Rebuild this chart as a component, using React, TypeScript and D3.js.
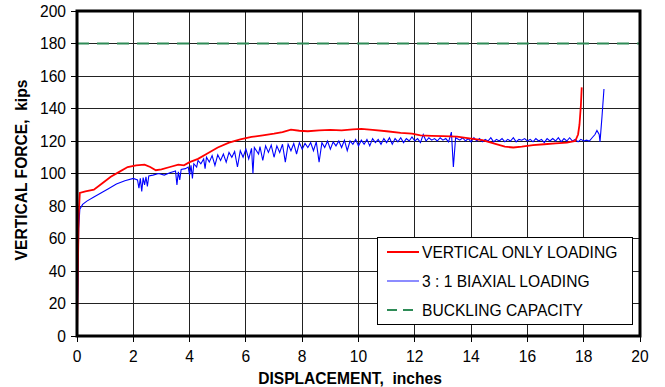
import React from 'react';
import * as d3 from 'd3';

const xTicks = [0, 2, 4, 6, 8, 10, 12, 14, 16, 18, 20];
const yTicks = [0, 20, 40, 60, 80, 100, 120, 140, 160, 180, 200];
const bucklingCapacity = 180;

const legendLabels = ['VERTICAL ONLY LOADING', '3 : 1 BIAXIAL LOADING', 'BUCKLING CAPACITY'];

// vertical only loading (displacement in, force kips)
const verticalX = [0, 0.03, 0.06, 0.1, 0.3, 0.6, 0.9, 1.2, 1.5, 1.8, 2.1, 2.4, 2.6, 2.8, 3.0, 3.3, 3.6, 3.8, 4.0, 4.3, 4.6, 5.0, 5.4, 5.8, 6.2, 6.6, 7.0, 7.3, 7.6, 7.9, 8.2, 8.6, 9.0, 9.4, 9.8, 10.1, 10.5, 11.0, 11.5, 11.9, 12.2, 12.6, 13.0, 13.5, 14.0, 14.4, 14.8, 15.2, 15.5, 15.8, 16.2, 16.6, 17.0, 17.4, 17.7, 17.8, 17.85, 17.9, 17.93];
const verticalY = [0, 40, 75, 88, 89, 90, 94, 98, 101, 104, 105, 105.5, 104, 102, 102.5, 104, 105.5, 105, 107, 109, 112, 116, 119, 121, 122.5, 123.5, 124.5, 125.5, 127, 126.3, 126, 126.5, 126.8, 126.5, 127.2, 127.4, 126.8, 126, 125, 124.5, 123.5, 123.2, 123, 122.7, 121.5, 120.5, 118.5, 116.5, 116, 116.5, 117.5, 118, 118.5, 119, 120, 124, 130, 142, 153];

// 3:1 biaxial loading
const biaxialX = [0, 0.03, 0.06, 0.1, 0.2, 0.35, 0.6, 0.85, 1.1, 1.4, 1.7, 2.0, 2.15, 2.2, 2.25, 2.3, 2.35, 2.4, 2.45, 2.5, 2.55, 2.7, 2.9, 3.1, 3.3, 3.5, 3.55, 3.6, 3.65, 3.7, 3.85, 3.95, 4.0, 4.05, 4.1, 4.15, 4.25, 4.3, 4.4, 4.5, 4.55, 4.6, 4.7, 4.8, 4.9, 5.0, 5.1, 5.2, 5.3, 5.4, 5.5, 5.6, 5.7, 5.8, 5.9, 6.0, 6.1, 6.2, 6.25, 6.3, 6.45, 6.5, 6.6, 6.7, 6.8, 6.9, 7.0, 7.1, 7.2, 7.3, 7.4, 7.5, 7.6, 7.7, 7.8, 7.9, 8.0, 8.1, 8.2, 8.3, 8.4, 8.5, 8.6, 8.7, 8.8, 8.9, 9.0, 9.1, 9.2, 9.3, 9.4, 9.5, 9.6, 9.7, 9.8, 9.9, 10.0, 10.1, 10.2, 10.3, 10.4, 10.5, 10.6, 10.7, 10.8, 10.9, 11.0, 11.1, 11.2, 11.3, 11.4, 11.5, 11.6, 11.7, 11.8, 11.9, 12.0, 12.1, 12.2, 12.3, 12.4, 12.5, 12.6, 12.7, 12.8, 12.9, 13.0, 13.1, 13.2, 13.3, 13.37, 13.45, 13.6, 13.7, 13.8, 13.9, 14.0, 14.1, 14.2, 14.3, 14.4, 14.5, 14.6, 14.7, 14.8, 14.9, 15.0, 15.1, 15.2, 15.3, 15.4, 15.5, 15.6, 15.7, 15.8, 15.9, 16.0, 16.1, 16.2, 16.3, 16.4, 16.5, 16.6, 16.7, 16.8, 16.9, 17.0, 17.1, 17.2, 17.3, 17.4, 17.5, 17.6, 17.7, 17.8, 17.9, 18.0, 18.1, 18.2, 18.3, 18.4, 18.47, 18.55, 18.58, 18.65, 18.72];
const biaxialY = [0, 30, 66, 78, 81, 83, 85.5, 88, 90.5, 93.5, 95.5, 97, 96, 91, 97, 89, 97.5, 93, 98, 92, 98.5, 99, 100, 99, 100.5, 101.5, 93, 101, 96, 102.5, 103, 104, 99, 105, 97, 106, 104, 108, 106, 109, 103, 110, 107, 111, 105, 111.5, 108, 112, 107, 113, 110, 113.5, 104, 114, 110, 115, 109, 115.5, 100, 116, 112, 116.5, 108, 117, 113, 117.5, 110, 117, 113, 118, 107, 118, 114, 118.5, 112, 119, 115, 118.5, 116, 119, 114, 119.5, 107, 119, 116, 120, 115, 119.5, 117, 120, 116, 120.5, 114, 120, 118, 121, 117, 120.5, 118, 121, 117, 121.5, 119, 121, 118, 121.5, 119, 122, 118, 121.5, 119.5, 122, 119, 121.5, 120, 122.5, 120, 121.5, 119, 124, 120, 122, 120.5, 121.5, 120, 122, 120.5, 121.5, 119.5, 125.5, 104, 122, 120.5, 122, 120, 121.5, 119.5, 122, 120, 121.5, 119.5, 121, 120, 122, 119.5, 121, 120, 121.5, 119.5, 121, 120, 122, 119.5, 121, 120.5, 121.5, 120, 121, 119.5, 121.5, 120, 121, 119, 121.5, 120, 121.5, 120, 122, 119.5, 121.5, 120, 122, 120, 121, 119.5, 121, 120, 120.5, 120, 122, 124, 126.5, 124, 119.5, 135, 152];

const W = 665;
const H = 387;
const margin = { left: 77, right: 25, top: 11, bottom: 51 };

export default function App() {
  const x = d3.scaleLinear().domain([0, 20]).range([margin.left, W - margin.right]);
  const y = d3.scaleLinear().domain([0, 200]).range([H - margin.bottom, margin.top]);

  const line = d3.line<[number, number]>()
    .x(d => x(d[0]))
    .y(d => y(d[1]));

  const vertical = verticalX.map((v, i) => [v, verticalY[i]] as [number, number]);
  const biaxial = biaxialX.map((v, i) => [v, biaxialY[i]] as [number, number]);

  const font = 'Arial, "Liberation Sans", sans-serif';
  const fs = 15.6;
  const lx = 377, ly = 237, lw = 255, lh = 87;

  return (
    <svg width={W} height={H} style={{ position: 'absolute', left: 0, top: 0, background: '#fff' }} fontFamily={font}>
      {/* grid */}
      {xTicks.map(t => (
        <line key={'gx' + t} x1={x(t)} x2={x(t)} y1={y(0)} y2={y(200)} stroke="#222" strokeWidth={1} shapeRendering="crispEdges" />
      ))}
      {yTicks.map(t => (
        <line key={'gy' + t} x1={x(0)} x2={x(20)} y1={y(t)} y2={y(t)} stroke="#222" strokeWidth={1} shapeRendering="crispEdges" />
      ))}

      {/* ticks */}
      {xTicks.map(t => (
        <g key={'tx' + t}>
          <line x1={x(t)} x2={x(t)} y1={y(0)} y2={y(0) + 6} stroke="#000" shapeRendering="crispEdges" />
          <text x={x(t)} y={y(0) + 26} textAnchor="middle" fontSize={fs}>{t}</text>
        </g>
      ))}
      {yTicks.map(t => (
        <g key={'ty' + t}>
          <line x1={x(0) - 6} x2={x(0)} y1={y(t)} y2={y(t)} stroke="#000" shapeRendering="crispEdges" />
          <text x={x(0) - 11} y={y(t) + 5.5} textAnchor="end" fontSize={fs}>{t}</text>
        </g>
      ))}

      {/* buckling capacity */}
      <line x1={x(0)} x2={x(20)} y1={y(bucklingCapacity)} y2={y(bucklingCapacity)} stroke="#2e8b57" strokeWidth={2} strokeDasharray="12,8" />

      <path d={line(biaxial) || ''} fill="none" stroke="#0000ff" strokeWidth={1.1} />
      <path d={line(vertical) || ''} fill="none" stroke="#ff0000" strokeWidth={1.8} />

      {/* plot frame */}
      <rect x={x(0)} y={y(200)} width={x(20) - x(0)} height={y(0) - y(200)} fill="none" stroke="#000" strokeWidth={3} />

      {/* legend */}
      <rect x={lx} y={ly} width={lw} height={lh} fill="#fff" stroke="#000" strokeWidth={1} shapeRendering="crispEdges" />
      {legendLabels.map((lab, i) => {
        const yy = ly + 15 + i * 29;
        const stroke = i === 0 ? '#ff0000' : i === 1 ? '#6666ff' : '#2e8b57';
        return (
          <g key={lab}>
            <line x1={lx + 10} x2={lx + 42} y1={yy} y2={yy} stroke={stroke} strokeWidth={i === 1 ? 1.5 : 2} strokeDasharray={i === 2 ? '10,6' : undefined} />
            <text x={lx + 45} y={yy + 5.5} fontSize={fs}>{lab}</text>
          </g>
        );
      })}

      {/* axis titles */}
      <text x={350} y={384} textAnchor="middle" fontSize={fs} fontWeight="bold">{'DISPLACEMENT,\u00a0\u00a0inches'}</text>
      <text transform="translate(27,170) rotate(-90)" textAnchor="middle" fontSize={fs} fontWeight="bold">{'VERTICAL FORCE,\u00a0\u00a0kips'}</text>
    </svg>
  );
}
